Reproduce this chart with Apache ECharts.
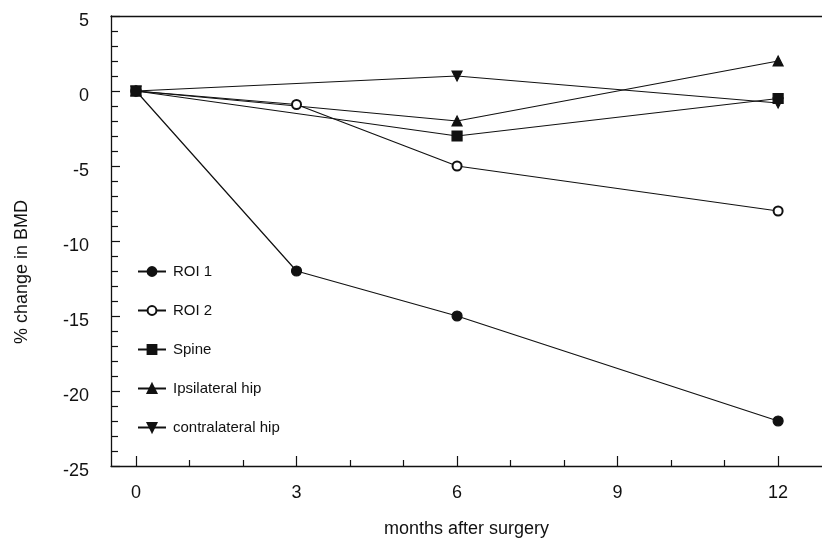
<!DOCTYPE html>
<html>
<head>
<meta charset="utf-8">
<script src="https://cdn.jsdelivr.net/npm/echarts@6/dist/echarts.min.js"></script>
<style>html,body{margin:0;padding:0;background:#fff}#c{width:822px;height:543px}</style>
</head>
<body>
<div id="c"></div>
<script>
const xMajorTicks = [0, 3, 6, 9, 12];
const xMinorTicks = [1, 2, 4, 5, 7, 8, 10, 11];
const roiMonths = [0, 3, 6, 12];
const hipMonths = [0, 6, 12];
const roi1 = [0, -12, -15, -22];
const roi2 = [0, -0.9, -5, -8];
const spine = [0, -3, -0.5];
const ipsilateralHip = [0, -2, 2];
const contralateralHip = [0, 1, -0.8];

const pairs = (xs, ys) => xs.map((x, i) => [x, ys[i]]);
const font = 'Liberation Sans, Arial, Helvetica, sans-serif';
const ink = '#111';
const X_MIN = -0.467, X_MAX = 12.82;

const chart = echarts.init(document.getElementById('c'), null, {renderer: 'canvas'});
const lineSeries = (name, xs, ys, symbol, extra) => Object.assign({
  name, type: 'line', data: pairs(xs, ys), symbol, symbolSize: 10,
  lineStyle: {color: ink, width: 1.2},
  itemStyle: {color: ink, borderColor: ink, borderWidth: 1.2},
  animation: false, z: 2
}, extra || {});

chart.setOption({
  backgroundColor: '#fff',
  animation: false,
  grid: {left: 111, top: 16, right: 0, bottom: 72},
  legend: {
    orient: 'vertical', left: 132, top: 259, itemWidth: 28, itemHeight: 11, itemGap: 24,
    textStyle: {fontFamily: font, fontSize: 15, color: ink, padding: [0, 0, 0, 2]},
    data: ['ROI 1', 'ROI 2', 'Spine', 'Ipsilateral hip', 'contralateral hip']
  },
  xAxis: [{
    type: 'value', min: X_MIN, max: X_MAX, position: 'bottom',
    name: 'months after surgery', nameLocation: 'middle', nameGap: 54,
    nameTextStyle: {fontFamily: font, fontSize: 18, color: ink},
    axisLine: {show: true, onZero: false, lineStyle: {color: ink, width: 1.3}},
    axisTick: {show: true, inside: true, length: 10, customValues: xMajorTicks, lineStyle: {color: ink, width: 1.2}},
    axisLabel: {show: true, customValues: xMajorTicks, margin: 18, fontFamily: font, fontSize: 18, color: ink},
    splitLine: {show: false}
  }, {
    type: 'value', min: X_MIN, max: X_MAX, position: 'bottom',
    axisLine: {show: false, onZero: false},
    axisTick: {show: true, inside: true, length: 6, customValues: xMinorTicks, lineStyle: {color: ink, width: 1.2}},
    axisLabel: {show: false},
    splitLine: {show: false}
  }, {
    type: 'value', min: X_MIN, max: X_MAX, position: 'top',
    axisLine: {show: true, onZero: false, lineStyle: {color: ink, width: 1.3}},
    axisTick: {show: false},
    axisLabel: {show: false},
    splitLine: {show: false}
  }],
  yAxis: {
    type: 'value', min: -25, max: 5, interval: 5,
    name: '% change in BMD', nameLocation: 'middle', nameGap: 80,
    nameTextStyle: {fontFamily: font, fontSize: 18, color: ink, padding: [0, 62, 0, 0]},
    axisLine: {show: true, onZero: false, lineStyle: {color: ink, width: 1.3}},
    axisTick: {show: true, inside: true, length: 9, lineStyle: {color: ink, width: 1.2}},
    minorTick: {show: true, splitNumber: 5, length: 7, lineStyle: {color: ink, width: 1.2}},
    axisLabel: {margin: 22, fontFamily: font, fontSize: 18, color: ink, verticalAlign: 'top', lineHeight: 10},
    splitLine: {show: false}
  },
  series: [
    lineSeries('ROI 1', roiMonths, roi1, 'circle'),
    lineSeries('ROI 2', roiMonths, roi2, 'emptyCircle', {symbolSize: 9}),
    lineSeries('Ipsilateral hip', hipMonths, ipsilateralHip, 'triangle'),
    lineSeries('contralateral hip', hipMonths, contralateralHip, 'triangle', {symbolRotate: 180}),
    lineSeries('Spine', hipMonths, spine, 'rect', {z: 3})
  ]
});
</script>
</body>
</html>
